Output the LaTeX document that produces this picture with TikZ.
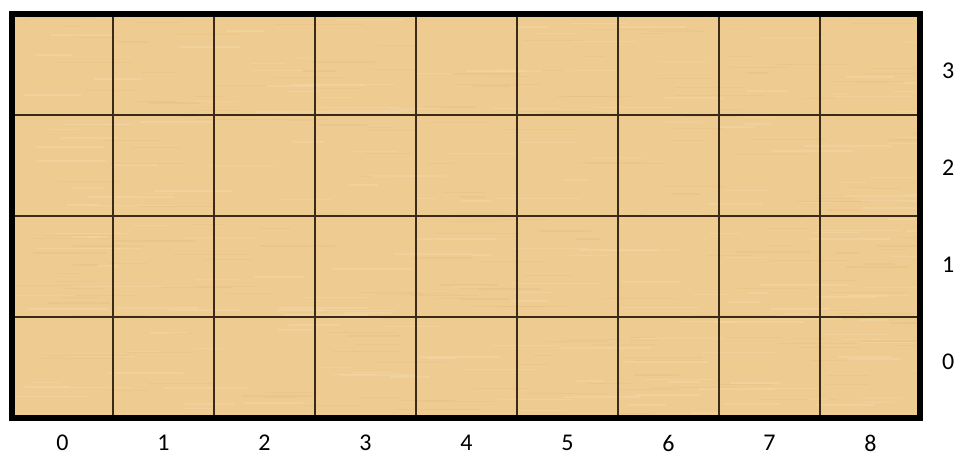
\documentclass[tikz,border=0pt]{standalone}
\usepackage{fontspec}
\setmainfont{Carlito}
\definecolor{wood}{RGB}{238,203,145}
\definecolor{woodlight}{RGB}{245,216,165}
\definecolor{wooddark}{RGB}{228,190,130}
\definecolor{gridcol}{RGB}{60,42,24}
\tikzset{
  gridline/.style={draw=gridcol, line width=1.2pt},
  frame/.style={draw=black, line width=6.5pt},
  axislabel/.style={font=\fontsize{24}{26}\selectfont, inner sep=0pt},
}
\begin{document}
\begin{tikzpicture}[x=1pt,y=-1pt]
\useasboundingbox (0,0) rectangle (955,457);
\fill[white] (0,0) rectangle (955,457);
% floor
\fill[wood] (12,14) rectangle (920,418);
\begin{scope}
\clip (12,14) rectangle (920,418);
\pgfmathsetseed{17}
\foreach \i in {1,...,420}{
  \pgfmathsetmacro\yy{14+404*rnd}
  \pgfmathsetmacro\xx{12+908*rnd}
  \pgfmathsetmacro\ll{20+70*rnd}
  \pgfmathsetmacro\kk{rnd}
  \ifdim\kk pt<0.5pt
    \draw[woodlight, line width=1.5pt, opacity=0.5] (\xx,\yy) -- ++(\ll,0);
  \else
    \draw[wooddark, line width=1.2pt, opacity=0.35] (\xx,\yy) -- ++(\ll,0);
  \fi
}
\end{scope}
% grid
\foreach \c in {1,...,8}{
  \draw[gridline] (12+101*\c,14) -- (12+101*\c,418);
}
\foreach \r in {1,...,3}{
  \draw[gridline] (12,14+101*\r) -- (920,14+101*\r);
}
\draw[frame] (12,14) rectangle (920,418);
% labels
\foreach \i in {0,...,8}{
  \node[axislabel] (col\i) at (62.5+101*\i,443) {\i};
}
\node[axislabel, anchor=west] (row3) at (942,71) {3};
\node[axislabel, anchor=west] (row2) at (942,168) {2};
\node[axislabel, anchor=west] (row1) at (942,265) {1};
\node[axislabel, anchor=west] (row0) at (942,362) {0};
\end{tikzpicture}
\end{document}
